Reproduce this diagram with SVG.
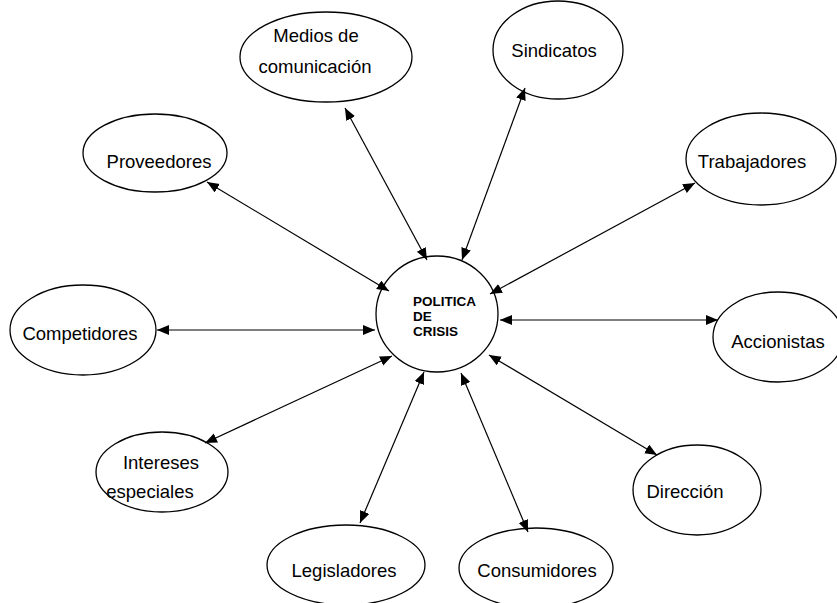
<svg xmlns="http://www.w3.org/2000/svg" width="837" height="603" viewBox="0 0 837 603">
<style>
.n ellipse{fill:#fff;stroke:#000;stroke-width:1.3}
.n text{font-family:"Liberation Sans",Arial,sans-serif;font-size:18.5px;fill:#000;text-anchor:middle}
#center text{font-size:13.5px;font-weight:bold;text-anchor:start}
#connectors line{stroke:#000;stroke-width:1.2;marker-start:url(#ah);marker-end:url(#ah)}
</style>
<defs>
<marker id="ah" markerUnits="userSpaceOnUse" markerWidth="13" markerHeight="11" refX="12" refY="5" orient="auto-start-reverse" viewBox="0 0 13 11">
<path d="M0,0 L12,5 L0,10 z" fill="#000"/>
</marker>
</defs>
<rect width="837" height="603" fill="#fff"/>
<g id="center" class="n">
<ellipse cx="437" cy="314" rx="61" ry="58"/>
<text x="413" y="306">POLITICA</text>
<text x="413" y="321">DE</text>
<text x="413" y="336">CRISIS</text>
</g>
<g id="medios" class="n">
<ellipse cx="326" cy="57" rx="86" ry="45"/>
<text x="316" y="42">Medios de</text>
<text x="315" y="73">comunicación</text>
</g>
<g id="sindicatos" class="n">
<ellipse cx="558" cy="50" rx="65" ry="49"/>
<text x="554" y="57">Sindicatos</text>
</g>
<g id="proveedores" class="n">
<ellipse cx="155" cy="153" rx="72" ry="39"/>
<text x="159" y="168">Proveedores</text>
</g>
<g id="trabajadores" class="n">
<ellipse cx="761" cy="159" rx="75" ry="46"/>
<text x="752" y="168">Trabajadores</text>
</g>
<g id="competidores" class="n">
<ellipse cx="83" cy="330" rx="73" ry="45"/>
<text x="80" y="340">Competidores</text>
</g>
<g id="accionistas" class="n">
<ellipse cx="778" cy="337" rx="65" ry="45"/>
<text x="778" y="348">Accionistas</text>
</g>
<g id="intereses" class="n">
<ellipse cx="162" cy="472" rx="66" ry="40"/>
<text x="161" y="469">Intereses</text>
<text x="150" y="498">especiales</text>
</g>
<g id="direccion" class="n">
<ellipse cx="697" cy="490" rx="64" ry="45"/>
<text x="685" y="498">Dirección</text>
</g>
<g id="legisladores" class="n">
<ellipse cx="346" cy="565" rx="79" ry="40"/>
<text x="344" y="577">Legisladores</text>
</g>
<g id="consumidores" class="n">
<ellipse cx="536" cy="568" rx="77" ry="40"/>
<text x="537" y="577">Consumidores</text>
</g>
<g id="connectors">
<line x1="345" y1="108" x2="427" y2="260"/>
<line x1="525" y1="88" x2="462" y2="260"/>
<line x1="695" y1="183" x2="490" y2="294"/>
<line x1="718" y1="320" x2="500" y2="320"/>
<line x1="657" y1="455" x2="489" y2="355"/>
<line x1="528" y1="532" x2="461" y2="373"/>
<line x1="360" y1="523" x2="424" y2="372"/>
<line x1="205" y1="443" x2="392" y2="356"/>
<line x1="157" y1="330" x2="375" y2="330"/>
<line x1="207" y1="182" x2="389" y2="291"/>
</g>
</svg>
